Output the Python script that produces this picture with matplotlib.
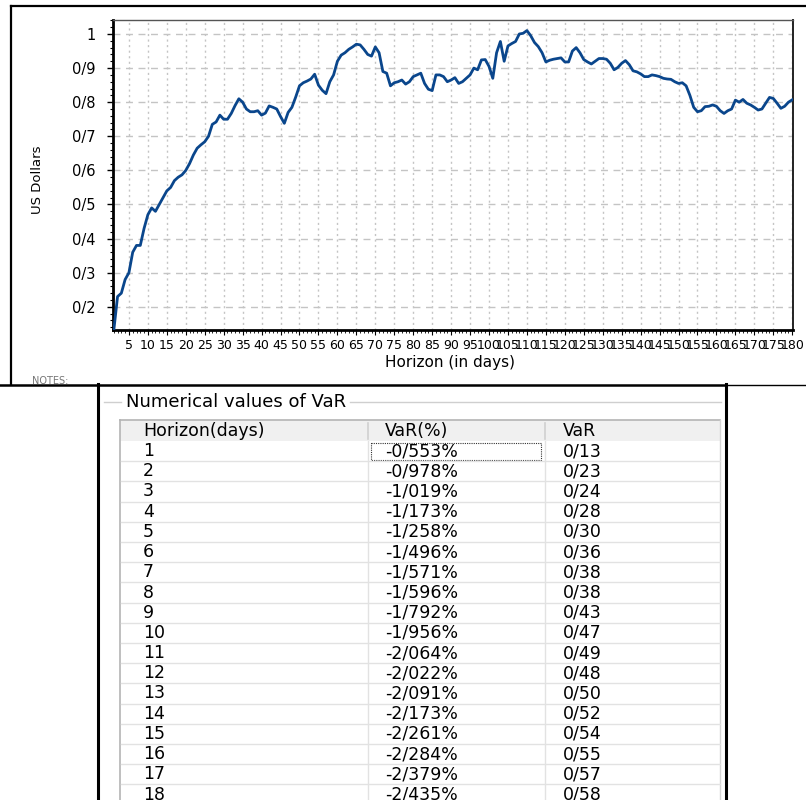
import matplotlib.pyplot as plt
from matplotlib.ticker import MultipleLocator, FuncFormatter
from matplotlib.patches import Rectangle

# VaR (US Dollars) per horizon day
horizon = list(range(1, 181))
var_usd = [
    0.13, 0.23, 0.24, 0.28, 0.30, 0.36, 0.38, 0.38, 0.43, 0.47,
    0.49, 0.48, 0.50, 0.52, 0.54, 0.55, 0.57, 0.58, 0.587, 0.60,
    0.62, 0.645, 0.665, 0.675, 0.684, 0.70, 0.735, 0.742, 0.762, 0.75,
    0.75, 0.767, 0.79, 0.81, 0.80, 0.78, 0.772, 0.772, 0.775, 0.762,
    0.768, 0.789, 0.785, 0.78, 0.758, 0.738, 0.77, 0.785, 0.815, 0.848,
    0.857, 0.862, 0.868, 0.882, 0.85, 0.835, 0.825, 0.86, 0.88, 0.92,
    0.938, 0.945, 0.955, 0.962, 0.97, 0.968, 0.955, 0.94, 0.935, 0.962,
    0.945, 0.89, 0.885, 0.848, 0.857, 0.86, 0.865, 0.853, 0.86, 0.875,
    0.88, 0.885, 0.855, 0.838, 0.834, 0.88, 0.88, 0.875, 0.86, 0.865,
    0.872, 0.855, 0.86, 0.87, 0.88, 0.9, 0.895, 0.924, 0.925, 0.905,
    0.87, 0.945, 0.978, 0.92, 0.965, 0.972, 0.978, 1.0, 1.002, 1.01,
    0.995, 0.975, 0.963, 0.945, 0.918, 0.923, 0.926, 0.928, 0.93, 0.918,
    0.918, 0.95, 0.96, 0.945, 0.925, 0.918, 0.912, 0.92, 0.928, 0.928,
    0.926, 0.914, 0.895, 0.902, 0.914, 0.922, 0.91, 0.892, 0.889, 0.883,
    0.875, 0.875, 0.88, 0.878, 0.875, 0.87, 0.868, 0.867, 0.86, 0.855,
    0.857, 0.848, 0.82, 0.785, 0.772, 0.775, 0.787, 0.788, 0.792, 0.788,
    0.775, 0.767, 0.775, 0.78, 0.806, 0.80, 0.808, 0.797, 0.792, 0.785,
    0.777, 0.78, 0.797, 0.814, 0.811, 0.797, 0.782, 0.788, 0.80, 0.807,
]

# table part (first rows visible)
table_days = list(range(1, 19))
var_pct = [0.553, 0.978, 1.019, 1.173, 1.258, 1.496, 1.571, 1.596, 1.792,
           1.956, 2.064, 2.022, 2.091, 2.173, 2.261, 2.284, 2.379, 2.435]
table_cols = ['Horizon(days)', 'VaR(%)', 'VaR']


def fa(v, nd):
    # decimal point is shown as "/" in the original
    return f"{v:.{nd}f}".replace('.', '/')


W, H = 806, 800
fig = plt.figure(figsize=(W / 100, H / 100), dpi=100)
fig.patch.set_facecolor('white')

# pixel canvas for frames and the table
bg = fig.add_axes([0, 0, 1, 1])
bg.set_xlim(0, W)
bg.set_ylim(H, 0)
bg.axis('off')
bg.set_zorder(0)

# ---- chart ----
L, R, T, B = 113, 793, 20, 330
ax = fig.add_axes([L / W, 1 - B / H, (R - L) / W, (B - T) / H])
ax.set_zorder(1)
ax.plot(horizon, var_usd, color='#0a468c', lw=2.0, zorder=3)
ax.set_xlim(0.8, 180.2)
ax.set_ylim(0.132, 1.041)

ax.xaxis.set_major_locator(MultipleLocator(5))
ax.xaxis.set_minor_locator(MultipleLocator(1))
ax.yaxis.set_major_locator(MultipleLocator(0.1))
ax.yaxis.set_minor_locator(MultipleLocator(0.02))
ax.yaxis.set_major_formatter(FuncFormatter(lambda v, p: '1' if abs(v - 1) < 1e-6 else fa(v, 1)))
ax.xaxis.set_major_formatter(FuncFormatter(lambda v, p: f"{int(round(v))}"))

ax.tick_params(axis='y', which='major', length=4.5, width=1, direction='out', pad=8, labelsize=10.5)
ax.tick_params(axis='y', which='minor', length=2.5, width=0.8, direction='out')
ax.tick_params(axis='x', which='major', length=3.5, width=0.8, direction='out', pad=3, labelsize=9)
ax.tick_params(axis='x', which='minor', length=2.2, width=0.6, direction='out')

ax.grid(axis='y', which='major', color='#c4c4c4', lw=1, linestyle=(0, (5, 4)))
ax.grid(axis='x', which='major', color='#c4c4c4', lw=1, linestyle=(0, (1.5, 2.5)))
ax.set_axisbelow(True)

ax.spines['left'].set_linewidth(2)
ax.spines['bottom'].set_linewidth(2)
ax.spines['top'].set_linewidth(1)
ax.spines['top'].set_color('#555555')
ax.spines['right'].set_linewidth(1.4)
ax.spines['right'].set_color('#222222')

ax.set_xlabel('Horizon (in days)', fontsize=11)
ax.xaxis.label.set_va('center')
ax.xaxis.set_label_coords((450 - L) / (R - L), (B - 362) / (B - T))
ax.set_ylabel('US Dollars', fontsize=9.5)
ax.yaxis.label.set_va('center')
ax.yaxis.set_label_coords((38 - L) / (R - L), (B - 180) / (B - T))

# chart frame
bg.plot([11, 11], [6, 384], color='black', lw=1.6)
bg.plot([11, W], [6, 6], color='black', lw=1.6)
bg.text(32, 381, 'NOTES:', fontsize=7, color='#777777', va='center')
bg.add_patch(Rectangle((0, 385), 97, H - 385, facecolor='white', edgecolor='none', zorder=5))
bg.plot([0, 726], [384.5, 384.5], color='black', lw=1.8, zorder=6)
bg.plot([726, W], [384.5, 384.5], color='black', lw=1, zorder=6)

# ---- table panel ----
bg.plot([98, 98], [384, H], color='black', lw=2.2, zorder=6)
bg.plot([726, 726], [384, H], color='black', lw=2.2, zorder=6)

title = bg.text(126, 402, 'Numerical values of VaR', fontsize=13, va='center', ha='left')
bg.plot([104, 121], [402, 402], color='#cfcfcf', lw=1)
fig.canvas.draw()
bb = title.get_window_extent(fig.canvas.get_renderer())
x_end = bg.transData.inverted().transform((bb.x1, 0))[0]
bg.plot([x_end + 4, 721], [402, 402], color='#cfcfcf', lw=1)

gx0, gx1, gy0 = 120, 720, 420
col_x = [120, 368, 545, 720]
text_x = [143, 385, 563]
row_h = 20.2
head_b = 441

bg.add_patch(Rectangle((gx0, gy0), gx1 - gx0, head_b - gy0, facecolor='#f0f0f0', edgecolor='none'))
bg.plot([gx0, gx0], [gy0, H], color='#b4b4b4', lw=1.2)
bg.plot([gx0, gx1], [gy0, gy0], color='#b4b4b4', lw=1.2)
bg.plot([gx1, gx1], [gy0, H], color='#d4d4d4', lw=1)
for cx in col_x[1:3]:
    bg.plot([cx, cx], [gy0 + 3, head_b - 2], color='#d0d0d0', lw=1.2)
    bg.plot([cx, cx], [head_b, H], color='#e2e2e2', lw=1)
for j, name in enumerate(table_cols):
    bg.text(text_x[j], (gy0 + head_b) / 2 + 1, name, fontsize=12.5, va='center', ha='left')

for i, d in enumerate(table_days):
    top = head_b + i * row_h
    yc = top + row_h / 2
    bg.plot([gx0 + 1, gx1], [top + row_h, top + row_h], color='#e2e2e2', lw=1)
    cells = [str(d), '-' + fa(var_pct[i], 3) + '%', fa(var_usd[i], 2)]
    for j, s in enumerate(cells):
        bg.text(text_x[j], yc, s, fontsize=12.5, va='center', ha='left')

# focus rectangle on first VaR(%) cell
bg.add_patch(Rectangle((371, head_b + 1.5), 170, row_h - 3, fill=False,
                       edgecolor='#333333', lw=0.8, linestyle=(0, (1, 1))))

fig.savefig('out.png', dpi=100, facecolor='white')
